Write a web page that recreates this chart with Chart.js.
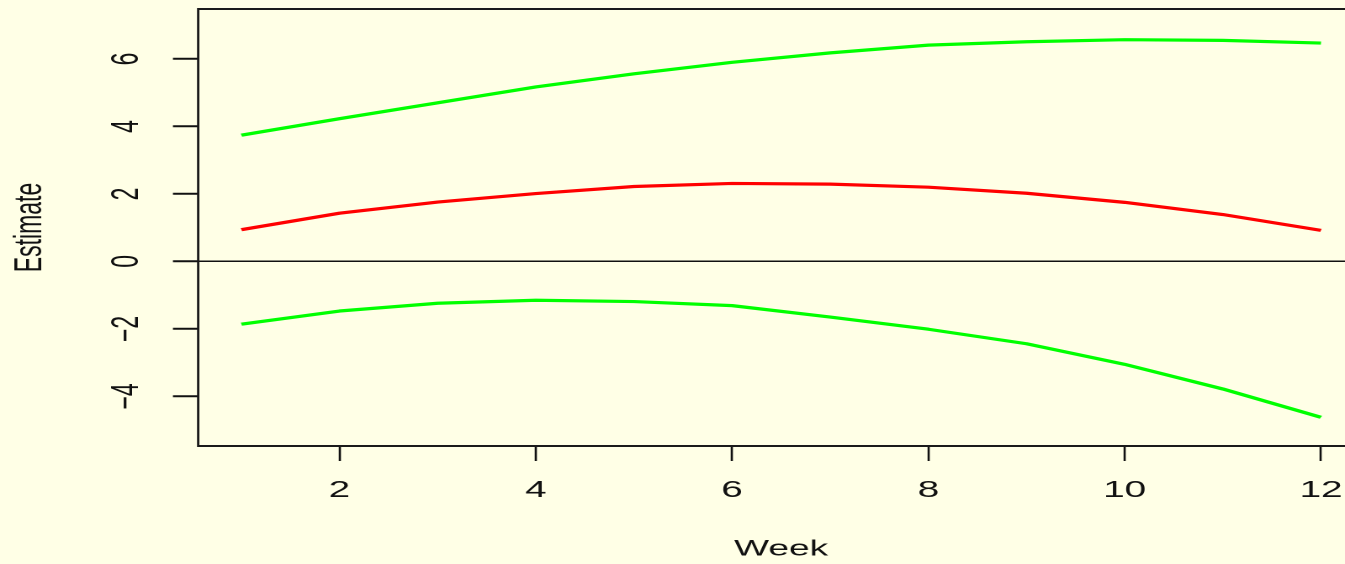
<!DOCTYPE html>
<html>
<head>
<meta charset="utf-8">
<title>Estimate by week</title>
<script src="https://cdn.jsdelivr.net/npm/chart.js@4/dist/chart.umd.min.js"></script>
<style>
  html, body { margin: 0; padding: 0; background: #FFFFE6; overflow: hidden; }
  /* the plot is laid out on a narrower canvas and widened across the page;
     its right-hand edge runs just past the page border */
  #wrap { width: 812.5px; height: 564px; transform: scaleX(1.68125); transform-origin: 0 0; }
</style>
</head>
<body>
<div id="wrap"><canvas id="chart"></canvas></div>
<script>
// Weekly estimate with its lower and upper bands
const weeks    = [1, 2, 3, 4, 5, 6, 7, 8, 9, 10, 11, 12];
const estimate = [0.94, 1.43, 1.76, 2.01, 2.22, 2.31, 2.29, 2.20, 2.02, 1.75, 1.39, 0.92];
const upper    = [3.74, 4.23, 4.70, 5.17, 5.56, 5.90, 6.18, 6.41, 6.51, 6.57, 6.55, 6.47];
const lower    = [-1.86, -1.47, -1.24, -1.15, -1.19, -1.31, -1.65, -2.01, -2.44, -3.05, -3.78, -4.62];

// Axis ticks and limits
const xTicks = [2, 4, 6, 8, 10, 12];
const yTicks = [-4, -2, 0, 2, 4, 6];
const xLimits = [0.56, 12.44];
const yLimits = [-5.47, 7.48];

const FONT = "'Liberation Sans', Arial, Helvetica, sans-serif";
const INK = '#111111';

const toPoints = vals => weeks.map((w, i) => ({ x: w, y: vals[i] }));

// Scales keep their box size; no extra room for overhanging labels
const noOverhang = s => { s.paddingTop = 0; s.paddingBottom = 0; s.paddingLeft = 0; s.paddingRight = 0; };

// Box around the plotting region
const frame = {
  id: 'frame',
  afterDraw(chart) {
    const { ctx, chartArea: a } = chart;
    ctx.save();
    ctx.strokeStyle = '#1a1a1a';
    ctx.lineWidth = 2;
    ctx.beginPath();
    ctx.moveTo(a.left, a.top); ctx.lineTo(a.right, a.top);
    ctx.moveTo(a.left, a.bottom); ctx.lineTo(a.right, a.bottom);
    ctx.stroke();
    ctx.lineWidth = 1.4;
    ctx.beginPath();
    ctx.moveTo(a.left, a.top - 1); ctx.lineTo(a.left, a.bottom + 1);
    ctx.moveTo(a.right, a.top - 1); ctx.lineTo(a.right, a.bottom + 1);
    ctx.stroke();
    ctx.restore();
  }
};

const lineStyle = color => ({
  borderColor: color,
  backgroundColor: color,
  borderWidth: 3.2,
  pointRadius: 0,
  tension: 0,
  fill: false,
  borderJoinStyle: 'round'
});

new Chart(document.getElementById('chart'), {
  type: 'line',
  data: {
    datasets: [
      Object.assign({ label: 'Upper', data: toPoints(upper) }, lineStyle('#00FF00')),
      Object.assign({ label: 'Estimate', data: toPoints(estimate) }, lineStyle('#FF0000')),
      Object.assign({ label: 'Lower', data: toPoints(lower) }, lineStyle('#00FF00'))
    ]
  },
  options: {
    responsive: true,
    maintainAspectRatio: false,
    devicePixelRatio: 2,
    animation: false,
    layout: { padding: { top: 9, left: 0, right: 0, bottom: 0 } },
    plugins: { legend: { display: false }, tooltip: { enabled: false } },
    scales: {
      x: {
        type: 'linear',
        min: xLimits[0],
        max: xLimits[1],
        afterBuildTicks: s => { s.ticks = xTicks.map(v => ({ value: v })); },
        afterFit: s => { s.height = 118; noOverhang(s); },
        border: { display: false },
        grid: { drawOnChartArea: false, tickLength: 15, tickWidth: 1.3, tickColor: INK },
        ticks: { padding: 15.7, autoSkip: false, maxRotation: 0, color: INK, font: { family: FONT, size: 23 } },
        title: { display: true, text: 'Week', color: INK, font: { family: FONT, size: 22 }, padding: { top: 0, bottom: 1.3 } }
      },
      y: {
        type: 'linear',
        min: yLimits[0],
        max: yLimits[1],
        afterBuildTicks: s => { s.ticks = yTicks.map(v => ({ value: v })); },
        afterFit: s => { s.width = 117.8; noOverhang(s); },
        border: { display: false },
        grid: {
          color: c => (c.tick && c.tick.value === 0 ? INK : 'rgba(0,0,0,0)'),
          lineWidth: 1.5,
          tickLength: 15,
          tickWidth: 2,
          tickColor: INK
        },
        ticks: {
          padding: 14.2,
          crossAlign: 'center',
          minRotation: 90,
          maxRotation: 90,
          color: INK,
          font: { family: FONT, size: 23 },
          callback: v => (v < 0 ? '\u2212' + Math.abs(v) : String(v))
        },
        title: { display: true, text: 'Estimate', color: INK, font: { family: FONT, size: 23 }, padding: { top: 4.6, bottom: 0 } }
      }
    }
  },
  plugins: [frame]
});
</script>
</body>
</html>
